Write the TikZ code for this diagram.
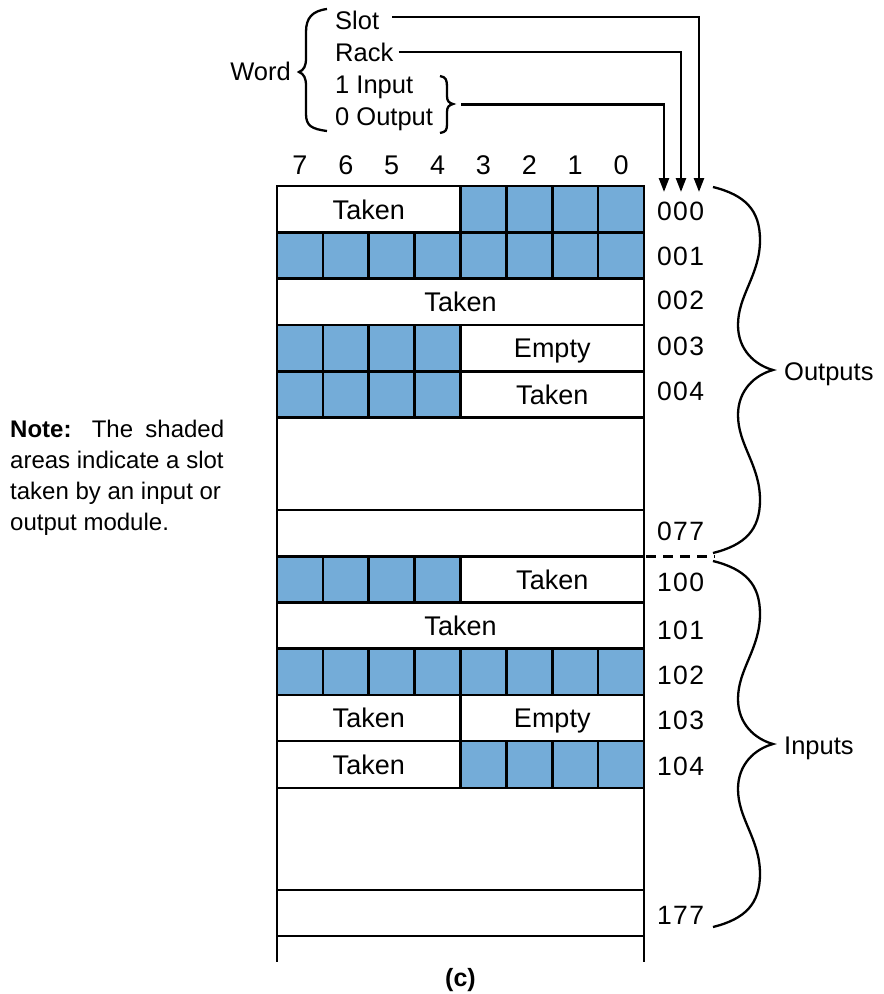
\documentclass[tikz,border=0pt]{standalone}
\usepackage{fontspec}
\setmainfont{Liberation Sans}
\usetikzlibrary{arrows.meta}
\definecolor{cellblue}{RGB}{116,172,216}
\newcommand\bluerow[4]{\foreach \k in {#3,...,#4}{\draw[bluecell] ({277+45.875*\k},#1) rectangle ({277+45.875*(\k+1)},#2);}}
\begin{document}
\begin{tikzpicture}[x=1pt,y=-1pt,
  every node/.style={font=\fontsize{25.5}{30}\selectfont, inner sep=0pt},
  gridline/.style={line width=2.6pt, line cap=rect},
  bluecell/.style={fill=cellblue, draw=black, line width=2.6pt},
  arr/.style={line width=2.4pt, -{Triangle[width=10pt,length=14pt]}},
  bracel/.style={line width=2.3pt},
  txt/.style={anchor=base, font=\fontsize{27}{30}\selectfont},
  rowlbl/.style={anchor=base west, font=\fontsize{26.5}{30}\selectfont\addfontfeatures{LetterSpace=5}},
]
\useasboundingbox (0,0) rectangle (884,994);

% shaded cells
\bluerow{186}{232.3}{4}{7}
\bluerow{232.3}{278.6}{0}{7}
\bluerow{324.9}{371.2}{0}{3}
\bluerow{371.2}{417.5}{0}{3}
\bluerow{556.5}{602.5}{0}{3}
\bluerow{648.5}{695}{0}{7}
\bluerow{741}{788}{4}{7}

% grid
\foreach \yy in {186,232.3,278.6,324.9,371.2,417.5,510,556.5,602.5,648.5,695,741,788,890,936}
  \draw[gridline] (277,\yy) -- (644,\yy);
\draw[gridline] (460.5,695) -- (460.5,741);
\draw[line width=2.8pt] (277,186) -- (277,962);
\draw[line width=2.8pt] (644,186) -- (644,962);
\draw[line width=2.4pt, dash pattern=on 10pt off 7pt] (646,556.5) -- (715,556.5);

% cell texts
\node[txt] (c000) at (368.75,219) {Taken};
\node[txt] (c002) at (460.5,311) {Taken};
\node[txt] (c003) at (552.25,357.5) {Empty};
\node[txt] (c004) at (552.25,404) {Taken};
\node[txt] (c100) at (552.25,589) {Taken};
\node[txt] (c101) at (460.5,635) {Taken};
\node[txt] (c103a) at (368.75,727.5) {Taken};
\node[txt] (c103b) at (552.25,727.5) {Empty};
\node[txt] (c104) at (368.75,774) {Taken};

% column numbers
\foreach \k/\b in {0/7,1/6,2/5,3/4,4/3,5/2,6/1,7/0}
  \node[txt] (col\b) at ({277+45.875*(\k+0.5)},174.5) {\b};

% row labels
\foreach \n/\yy in {000/220,001/265,002/309,003/355,004/400,077/540,100/591,101/639,102/684,103/729,104/775,177/924}
  \node[rowlbl] (r\n) at (657,\yy) {\n};

% top labels
\node[anchor=base east] (word) at (291,80) {Word};
\node[anchor=base west] (slot) at (335,29) {Slot};
\node[anchor=base west] (rack) at (335,61) {Rack};
\node[anchor=base west] (inp) at (335,93) {1 Input};
\node[anchor=base west] (outp) at (335,125) {0 Output};

% word brace
\draw[bracel] (327,9) .. controls (312,11) and (306,18) .. (306,32) -- (306,58)
  .. controls (306,66) and (304,70) .. (299,72) .. controls (304,74) and (306,78) .. (306,86)
  -- (306,114) .. controls (306,126) and (312,129) .. (327,131);
% io brace
\draw[bracel] (440,76) .. controls (446,77) and (447,80) .. (447,87) -- (447,96)
  .. controls (447,101) and (449,103) .. (453,104) .. controls (449,105) and (447,107) .. (447,112)
  -- (447,124) .. controls (447,130) and (446,132) .. (440,133);
\coordinate (iotip) at (453,104.3);

% arrows
\coordinate (aslot) at (699,192);
\coordinate (arack) at (681,192);
\coordinate (aio) at (664,192);
\draw[arr] ([xshift=13pt,yshift=3pt]slot.east) -| (aslot);
\draw[arr] ([xshift=5pt]rack.east) -| (arack);
\draw[arr] ([xshift=8pt]iotip) -| (aio);

% big braces
\foreach \s in {0,374}{
\draw[bracel,shift={(0,\s)}] (713,187) .. controls (745,195) and (760,210) .. (760,240)
  .. controls (760,275) and (738,295) .. (738,325) .. controls (738,350) and (755,365) .. (773,370)
  .. controls (755,375) and (738,390) .. (738,415) .. controls (738,445) and (760,465) .. (760,500)
  .. controls (760,530) and (745,545) .. (713,553);
}
\node[anchor=base west] (outs) at (784,380) {Outputs};
\node[anchor=base west] (ins) at (784,754) {Inputs};

% note
\node[anchor=north west, align=left, font=\fontsize{24}{31}\selectfont] (note) at (10,419.5)
  {\makebox[214pt][s]{\textbf{Note:} The shaded}\\areas indicate a slot\\taken by an input or\\output module.};

% caption
\node[anchor=base, font=\fontsize{25}{30}\selectfont\bfseries] (cap) at (460.5,986) {(c)};
\end{tikzpicture}
\end{document}
